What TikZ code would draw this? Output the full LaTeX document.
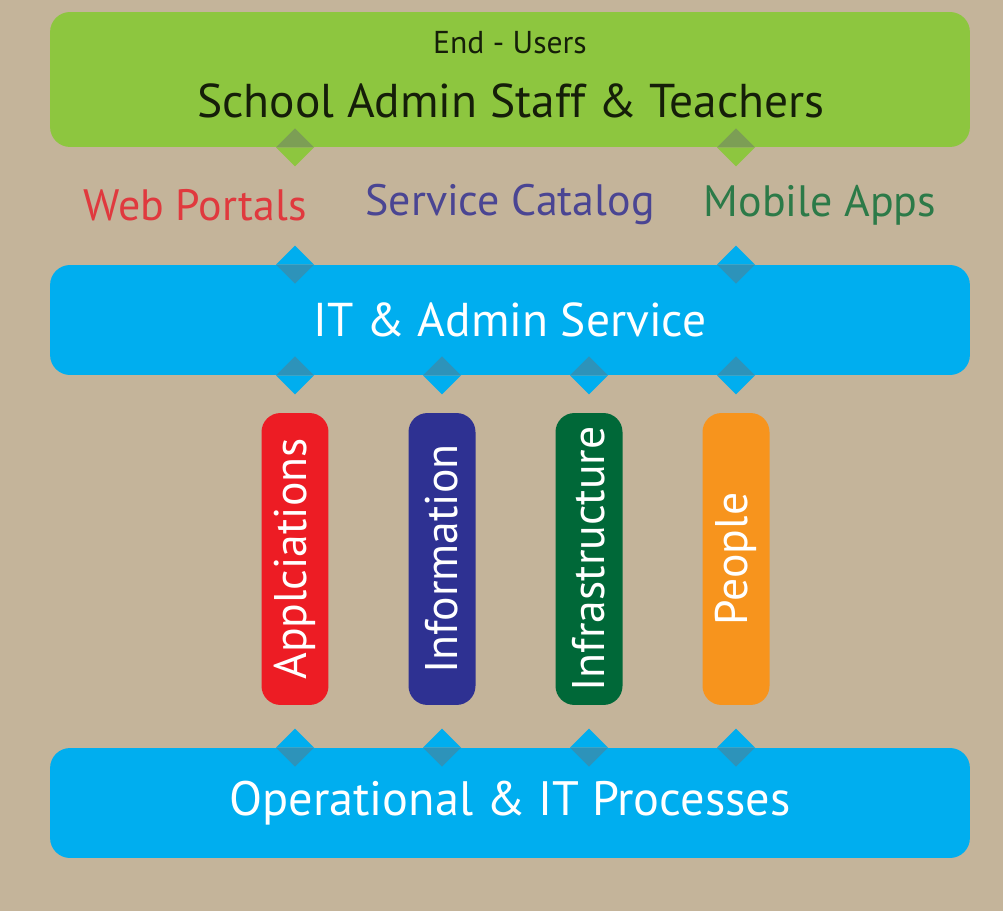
\documentclass[tikz,border=0pt]{standalone}
\usepackage{fontspec}
\setmainfont{PT Sans}
\usepackage{tikz}
\usetikzlibrary{shapes}

\definecolor{sand}{HTML}{C4B49A}
\definecolor{leaf}{HTML}{8DC63F}
\definecolor{leafDark}{HTML}{7C9E55}
\definecolor{sky}{HTML}{00AEEF}
\definecolor{skyDark}{HTML}{2D93BA}
\definecolor{appRed}{HTML}{ED1C24}
\definecolor{infoBlue}{HTML}{2E3192}
\definecolor{infraGreen}{HTML}{006838}
\definecolor{peopleOrange}{HTML}{F7941D}
\definecolor{portalRed}{HTML}{E0393E}
\definecolor{catalogBlue}{HTML}{4A4593}
\definecolor{mobileGreen}{HTML}{2C7A48}

\tikzstyle{layer} = [rectangle, rounded corners=0.4cm, minimum width=18.4cm, inner sep=0pt, text=white, font=\fontsize{27}{30}\selectfont]
\tikzstyle{pillar} = [rectangle, rounded corners=0.38cm, minimum width=5.84cm, minimum height=1.34cm, inner sep=0pt, text=white, rotate=90, font=\fontsize{26}{28}\selectfont]
\tikzstyle{caption} = [font=\fontsize{25}{28}\selectfont]

% diamond joint on a box edge: point, outer colour, inner colour, side of the box (1 below, -1 above)
\newcommand{\joint}[4]{%
  \fill[#2] (#1) ++(-19,0) -- ++(19,{-19*(#4)}) -- ++(19,{19*(#4)}) -- cycle;
  \fill[#3] (#1) ++(-19,0) -- ++(19,{19*(#4)}) -- ++(19,{-19*(#4)}) -- cycle;
}

\begin{document}
\begin{tikzpicture}[x=0.02cm, y=-0.02cm]

\fill[sand] (0,0) rectangle (1003,911);
\useasboundingbox (0,0) rectangle (1003,911);

\node[layer, fill=leaf, minimum height=2.7cm] at (510,79.5) (users) {};
\node[text=black!85!leaf, font=\fontsize{18}{20}\selectfont] at (510,43) (endUsers) {End - Users};
\node[text=black!85!leaf, font=\fontsize{27}{30}\selectfont] at (511,101) (staff) {School Admin Staff \& Teachers};

\node[caption, text=portalRed] at (195,205) (portals) {Web Portals};
\node[caption, text=catalogBlue] at (510,205) (catalog) {Service Catalog};
\node[caption, text=mobileGreen] at (820,205) (mobile) {Mobile Apps};

\node[layer, fill=sky, minimum height=2.2cm] at (510,320) (service) {IT \& Admin Service};

\node[pillar, fill=appRed] at (295,559) (apps) {Applciations};
\node[pillar, fill=infoBlue] at (442,559) (info) {Information};
\node[pillar, fill=infraGreen] at (589,559) (infra) {Infrastructure};
\node[pillar, fill=peopleOrange] at (736,559) (people) {People};

\node[layer, fill=sky, minimum height=2.2cm, font=\fontsize{27.5}{30}\selectfont] at (510,803) (processes) {Operational \& IT Processes};

\joint{apps.center |- users.south}{leaf}{leafDark}{-1}
\joint{people.center |- users.south}{leaf}{leafDark}{-1}

\joint{apps.center |- service.north}{sky}{skyDark}{1}
\joint{people.center |- service.north}{sky}{skyDark}{1}

\foreach \p in {apps, info, infra, people} {
  \joint{\p.center |- service.south}{sky}{skyDark}{-1}
  \joint{\p.center |- processes.north}{sky}{skyDark}{1}
}

\end{tikzpicture}
\end{document}
